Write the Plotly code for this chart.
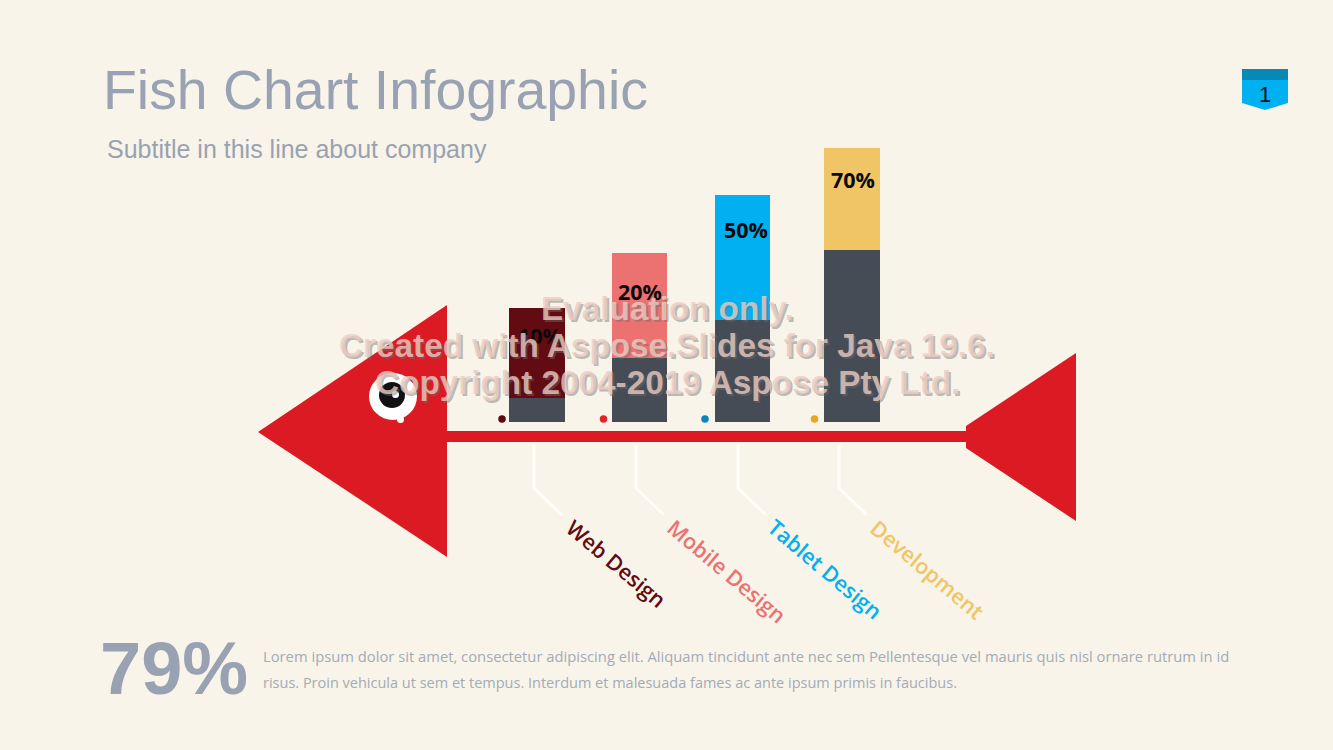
import plotly.graph_objects as go

# ---- data ----
categories = ["Web Design", "Mobile Design", "Tablet Design", "Development"]
percent_labels = ["10%", "20%", "50%", "70%"]
base_values = [24, 64, 102, 172]
top_values = [90, 105, 125, 102]
watermark_lines = ["Evaluation only.", "Created with Aspose.Slides for Java 19.6.", "Copyright 2004-2019 Aspose Pty Ltd."]

# ---- style / layout ----
BG = "#f8f4e9"
RED = "#dc1a24"
GREY = "#464c55"
TITLE = "#98a2b3"
bar_colors = ["#630b12", "#ec7272", "#00b0f0", "#f0c566"]
dot_colors = ["#5a0a10", "#e0252b", "#0b86bd", "#eaa51e"]
bar_x = [537, 639.5, 742.5, 852]
bar_w = [56, 55, 55, 56]
dot_x = [502, 603.5, 705, 814.5]
conn_x = [534, 636, 738, 839]
label_xy = [(617, 563), (726.5, 570.5), (825, 568.5), (928, 569)]
pct_xy = [(540, 335), (640, 291), (746, 229), (852.5, 179)]

fig = go.Figure()

# bars: yaxis2 is one unit per pixel, zero at the baseline
fig.add_trace(go.Bar(x=bar_x, y=base_values, width=bar_w, marker=dict(color=GREY, line_width=0),
                     yaxis="y2", xaxis="x", showlegend=False))
fig.add_trace(go.Bar(x=bar_x, y=top_values, width=bar_w, marker=dict(color=bar_colors, line_width=0),
                     yaxis="y2", xaxis="x", showlegend=False))

# connectors
for cx in conn_x:
    fig.add_trace(go.Scatter(x=[cx, cx, cx + 28], y=[445, 488, 515], mode="lines",
                             line=dict(color="#fffdf8", width=3), showlegend=False))
# dots
fig.add_trace(go.Scatter(x=dot_x, y=[419] * 4, mode="markers",
                         marker=dict(color=dot_colors, size=7.5, line_width=0), showlegend=False))

shapes = [
    # head
    dict(type="path", path="M258,432 L447,305 L447,557 Z", fillcolor=RED, line_width=0),
    # spine
    dict(type="rect", x0=447, x1=970, y0=431, y1=442, fillcolor=RED, line_width=0),
    # tail
    dict(type="path", path="M966,426 L1076,353 L1076,521 L966,448 Z", fillcolor=RED, line_width=0),
    # eye
    dict(type="circle", x0=369, x1=417, y0=373, y1=420, fillcolor="#ffffff", line_width=0),
    dict(type="circle", x0=397, x1=404, y0=416, y1=423, fillcolor="#ffffff", line_width=0),
    dict(type="circle", x0=379, x1=405, y0=382, y1=408, fillcolor="#111111", line_width=0),
    dict(type="circle", x0=392, x1=399, y0=391, y1=398, fillcolor="#ffffff", line_width=0),
    # page badge
    dict(type="path", path="M1242,80 L1288,80 L1288,103 L1265,110 L1242,103 Z", fillcolor="#00b0f0", line_width=0),
    dict(type="rect", x0=1242, x1=1288, y0=69, y1=80, fillcolor="#0789b8", line_width=0),
]

ann = []
def text(x, y, s, size, color, family="Liberation Sans", anchor="left", angle=0, bold=False, weight=None):
    f = dict(family=family, size=size, color=color)
    if weight:
        f["weight"] = weight
    ann.append(dict(x=x, y=y, xref="x", yref="y", text=f"<b>{s}</b>" if bold else s, showarrow=False,
                    xanchor=anchor, yanchor="middle", textangle=angle, font=f))

text(101, 90, "Fish Chart Infographic", 55.4, TITLE)
text(105, 149, "Subtitle in this line about company", 25, TITLE)
text(1265, 94, "1", 22, "#111111", anchor="center")
text(98, 668, "79%", 74, TITLE, bold=True)
text(261, 656, "Lorem ipsum dolor sit amet, consectetur adipiscing elit. Aliquam tincidunt ante nec sem Pellentesque vel mauris quis nisl ornare rutrum in id",
     14.78, "#a3abb8", family="Open Sans")
text(261, 682, "risus. Proin vehicula ut sem et tempus. Interdum et malesuada fames ac ante ipsum primis in faucibus.",
     14.5, "#a3abb8", family="Open Sans")

for (lx, ly), c, col in zip(label_xy, categories, bar_colors):
    text(lx, ly, c, 21.5, col, family="Open Sans", anchor="center", angle=40, weight=600)
for (px, py), p in zip(pct_xy, percent_labels):
    text(px, py, p, 21.5, "#0a0a0a", family="Open Sans", anchor="center", bold=True)

wm_y = [308, 345, 382]
wm_x = [667, 667, 667]
for wx, wy, line in zip(wm_x, wm_y, watermark_lines):
    text(wx + 2, wy + 2, line, 33.3, "rgba(110,110,110,0.45)", anchor="center", bold=True)
for wx, wy, line in zip(wm_x, wm_y, watermark_lines):
    text(wx, wy, line, 33.3, "rgba(235,205,195,0.8)", anchor="center", bold=True)

fig.update_layout(
    width=1333, height=750, margin=dict(l=0, r=0, t=0, b=0),
    paper_bgcolor=BG, plot_bgcolor=BG, barmode="stack", showlegend=False,
    xaxis=dict(range=[0, 1333], visible=False, fixedrange=True, domain=[0, 1]),
    yaxis=dict(range=[750, 0], visible=False, fixedrange=True, domain=[0, 1]),
    yaxis2=dict(range=[-328, 422], visible=False, fixedrange=True, overlaying="y", side="left"),
    shapes=shapes, annotations=ann,
)
fig.write_html("out.html", config={"displayModeBar": False},
               post_script="document.body.style.margin='0';document.body.style.overflow='hidden';")
